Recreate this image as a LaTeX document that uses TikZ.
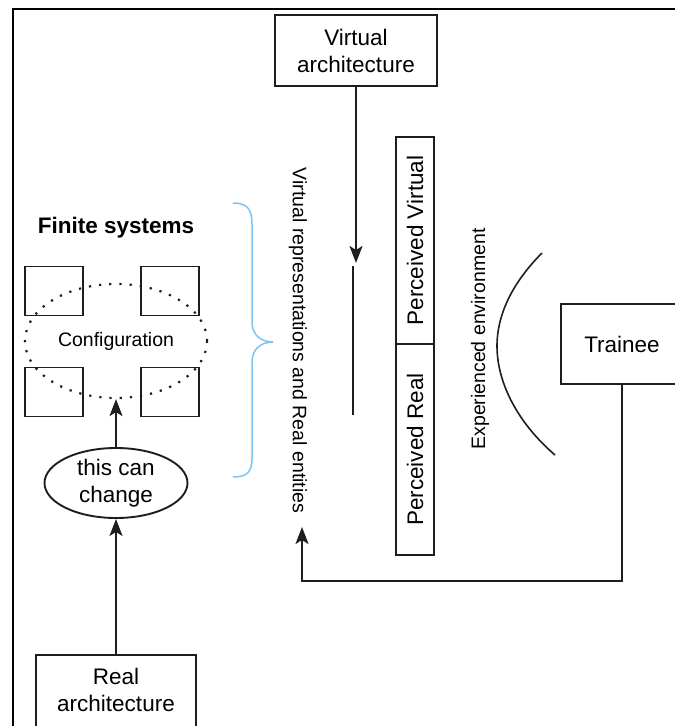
\documentclass[tikz,border=0pt]{standalone}
\usepackage{fontspec}
\setmainfont{Liberation Sans}
\usetikzlibrary{arrows.meta,shapes.geometric}
\newcommand\mainsize{\fontsize{22.5}{27}\selectfont}
\newcommand\minorsize{\fontsize{19.5}{23}\selectfont}
\definecolor{linec}{HTML}{1E1E1E}
\definecolor{bracec}{HTML}{7CC4F4}
\begin{document}
\begin{tikzpicture}[x=1pt,y=-1pt,
  box/.style={draw=linec, line width=1.9pt, align=center, font=\mainsize, inner sep=0pt},
  sq/.style={draw=linec, line width=1.9pt, minimum width=58pt, minimum height=49pt, inner sep=0pt},
  conn/.style={draw=linec, line width=1.9pt},
  arr/.style={conn, -{Stealth[length=17pt,width=13pt,inset=4pt]}},
  sidetext/.style={font=\minorsize, inner sep=0pt},
]
\useasboundingbox (0,0) rectangle (675,726);
\clip (0,0) rectangle (675,726);

% outer frame (left and top edges)
\draw[black, line width=2.6pt] (13,740) -- (13,9) -- (690,9);

% architectures
\node[box, minimum width=162pt, minimum height=71pt] (va) at (356,50.5) {Virtual\\architecture};
\node[box, minimum width=160pt, minimum height=90pt,
      label={[font=\mainsize, align=center, yshift=10pt]center:Real\\architecture}] (ra) at (116,700) {};

% finite systems and their configuration
\node[font=\bfseries\mainsize] (fs) at (116,228) {Finite systems};
\node[sq] (s1) at (54,291) {};
\node[sq] (s2) at (170,291) {};
\node[sq] (s3) at (54,392) {};
\node[sq] (s4) at (170,392) {};
\node[ellipse, draw=linec, line width=2.2pt, dash pattern=on 2.2pt off 8pt,
      minimum width=182pt, minimum height=114pt, font=\minorsize] (cfg) at (116,341) {Configuration};
\node[box, ellipse, minimum width=143pt, minimum height=70pt] (chg) at (116,483) {this can\\change};
\draw[arr] (ra.north) -- (chg.south);
\draw[arr] (chg.north) -- (cfg.south);

% grouping brace
\draw[bracec, line width=1.5pt]
  (233,203) .. controls (247,203) and (252,209) .. (252,224) -- (252,322)
  .. controls (252,335) and (261,342) .. (273,342)
  .. controls (261,342) and (252,349) .. (252,362) -- (252,458)
  .. controls (252,472) and (247,477) .. (233,477);

% virtual representations
\node[sidetext, rotate=-90] (vr) at (298,340.5) {Virtual representations and Real entities};
\coordinate (vtip) at (356,263);
\draw[arr] (va.south) -- (vtip);
\coordinate (ltop) at (353,266);
\coordinate (lbot) at (353,415);
\draw[conn] (ltop) -- (lbot);

% perceived column
\node[box, rotate=90, minimum width=207pt, minimum height=38pt] (pv) at (415,240.5) {Perceived Virtual};
\node[box, rotate=90, minimum width=211pt, minimum height=38pt] (pr) at (415,449.5) {Perceived Real};

% experienced environment
\node[sidetext, rotate=90] (ee) at (480,339) {Experienced environment};
\draw[conn, line width=1.6pt] (542,253) .. controls (515,280) and (497,312) .. (497,346)
  .. controls (497,385) and (520,425) .. (555,455);

% trainee and feedback loop
\node[box, minimum width=150pt, minimum height=80pt,
      label={[font=\mainsize, xshift=-14pt]center:Trainee}] (tr) at (636,344) {};
\coordinate (fbk) at (302,527);
\draw[arr] ([xshift=-14pt]tr.south) -- ++(0,196) -| (fbk);
\end{tikzpicture}
\end{document}
